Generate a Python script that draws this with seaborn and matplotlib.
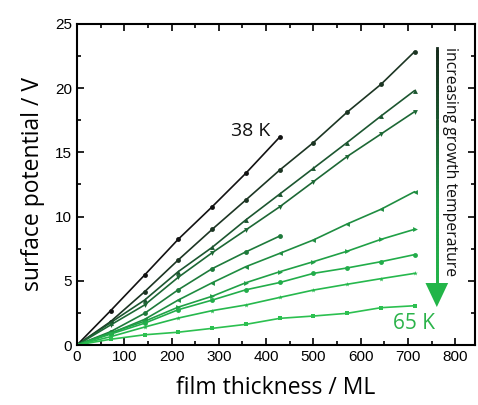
import numpy as np
import pandas as pd
import matplotlib
matplotlib.use('Agg')
import matplotlib.pyplot as plt
import seaborn as sns
from matplotlib.collections import LineCollection
from matplotlib.colors import LinearSegmentedColormap
from matplotlib.ticker import MultipleLocator

# film thickness (ML) at each deposition step
thickness = [0, 71, 143, 214, 286, 357, 429, 500, 571, 643, 714]

# surface potential (V), from lowest to highest growth temperature
v1 = [0, 2.67, 5.45, 8.23, 10.77, 13.37, 16.2]
v2 = [0, 1.82, 4.15, 6.62, 9.01, 11.29, 13.63, 15.76, 18.12, 20.3, 22.84]
v3 = [0, 1.74, 3.5, 5.71, 7.61, 9.74, 11.76, 13.76, 15.76, 17.83, 19.81]
v4 = [0, 1.56, 3.12, 5.27, 7.19, 8.96, 10.77, 12.72, 14.67, 16.43, 18.17]
v5 = [0, 1.04, 2.47, 4.3, 5.95, 7.25, 8.49]
v6 = [0, 0.91, 2.0, 3.5, 4.85, 6.1, 7.14, 8.18, 9.42, 10.57, 11.94]
v7 = [0, 0.95, 1.85, 2.95, 3.8, 4.85, 5.71, 6.49, 7.3, 8.23, 9.01]
v8 = [0, 0.85, 1.7, 2.75, 3.5, 4.3, 4.87, 5.58, 6.0, 6.49, 7.04]
v9 = [0, 0.65, 1.4, 2.1, 2.68, 3.12, 3.71, 4.28, 4.73, 5.17, 5.58]
v10 = [0, 0.45, 0.8, 1.0, 1.3, 1.61, 2.08, 2.26, 2.47, 2.91, 3.06]

series = [v1, v2, v3, v4, v5, v6, v7, v8, v9, v10]
names = ['s%d' % (i + 1) for i in range(len(series))]
colors = ['#121212', '#1c3523', '#1c5630', '#1d6835', '#1e7a3b', '#1f8d41',
          '#20a046', '#22ad4a', '#26b84d', '#2cc050']
markers = ['o', 'o', '^', 'v', 'o', '<', '>', 'o', '*', 's']

rows = []
for n, vals in zip(names, series):
    for x, y in zip(thickness, vals):
        rows.append({'thickness': x, 'potential': y, 'series': n})
df = pd.DataFrame(rows)

sns.set_style('ticks')
plt.rcParams['font.family'] = ['Liberation Sans', 'DejaVu Sans']
plt.rcParams['text.color'] = 'black'
plt.rcParams['axes.labelcolor'] = 'black'

fig = plt.figure(figsize=(4.78, 4.05), dpi=100)
ax = fig.add_axes([0.161, 0.148, 0.833, 0.793])

sns.lineplot(data=df, x='thickness', y='potential', hue='series', style='series',
             palette=dict(zip(names, colors)), markers=dict(zip(names, markers)),
             dashes=False, markersize=3.5, markeredgewidth=0, linewidth=1.2,
             legend=False, ax=ax)

ax.set_xlim(0, 842)
ax.set_ylim(0, 25)
ax.xaxis.set_major_locator(MultipleLocator(100))
ax.xaxis.set_minor_locator(MultipleLocator(50))
ax.yaxis.set_major_locator(MultipleLocator(5))
ax.yaxis.set_minor_locator(MultipleLocator(2.5))
ax.tick_params(which='both', direction='in', top=True, right=True, width=1.2,
               labelsize=11, colors='black')
ax.tick_params(which='major', length=5)
ax.tick_params(which='minor', length=3)
for s in ax.spines.values():
    s.set_linewidth(1.5)
    s.set_color('black')

ax.set_xlabel('film thickness / ML', fontsize=16.5, family='Open Sans', labelpad=9)
ax.set_ylabel('surface potential / V', fontsize=16.5, family='Open Sans', labelpad=7)

ax.text(408, 16.7, '38 K', fontsize=14, family='Open Sans', color='#111111',
        ha='right', va='center')
ax.text(758, 1.7, '65 K', fontsize=15, family='Open Sans', color='#2bb34a',
        ha='right', va='center')
ax.text(789, 23.2, 'increasing growth temperature', fontsize=11.3,
        family='Open Sans', rotation=270, ha='center', va='top', color='#111111')

# gradient arrow
cmap = LinearSegmentedColormap.from_list('arr', ['#14281a', '#1a5a2e', '#1f9a45', '#22b548'])
ys = np.linspace(23.1, 4.6, 80)
pts = np.array([[761] * len(ys), ys]).T.reshape(-1, 1, 2)
segs = np.concatenate([pts[:-1], pts[1:]], axis=1)
lc = LineCollection(segs, cmap=cmap, linewidth=2.0, capstyle='projecting')
lc.set_array(np.linspace(0, 1, len(segs)))
ax.add_collection(lc)
ax.fill([737, 785, 761], [4.83, 4.83, 2.96], color='#22b548', lw=0)

fig.savefig('out.png', dpi=100)
